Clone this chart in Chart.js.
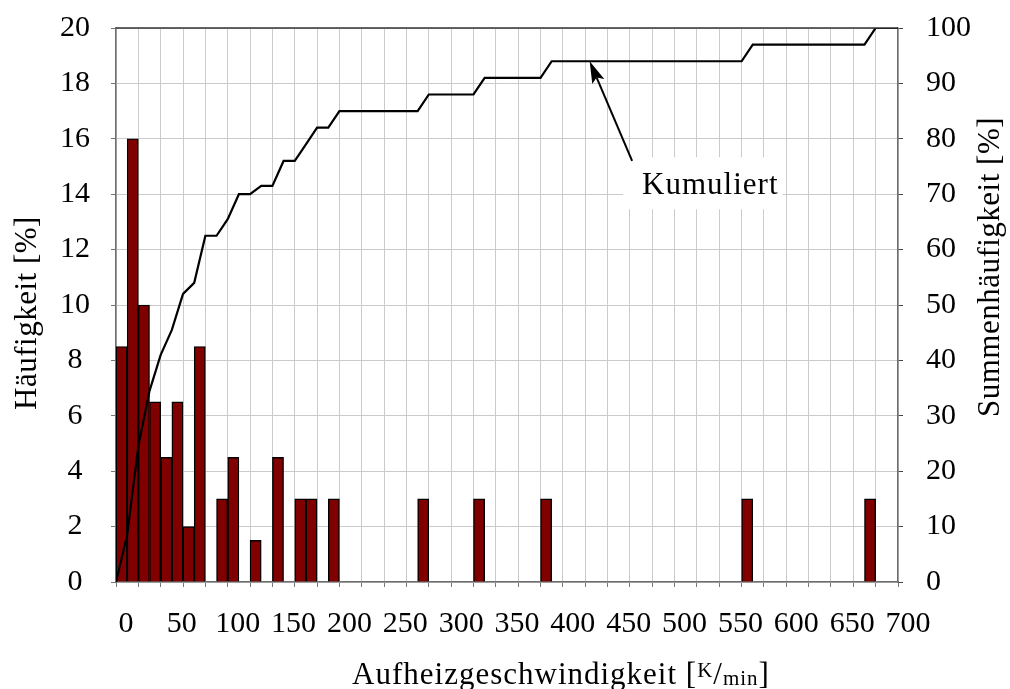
<!DOCTYPE html>
<html>
<head>
<meta charset="utf-8">
<script src="https://cdn.jsdelivr.net/npm/chart.js@4.4.0/dist/chart.umd.min.js"></script>
<style>
  html, body { margin: 0; padding: 0; background: #fff; }
</style>
</head>
<body>
<canvas id="chartAufheiz" width="1010" height="689"></canvas>
<script>
// Klassen: linke Kante in K/min, Breite 10
const klassenStart = [0, 10, 20, 30, 40, 50, 60, 70, 90, 100, 120, 140, 160, 170, 190, 270, 320, 380, 560, 670];
const haeufigkeit = [8.5, 16, 10, 6.5, 4.5, 6.5, 2, 8.5, 3, 4.5, 1.5, 4.5, 3, 3, 3, 3, 3, 3, 3, 3];
const klassenBreite = 10;

// Summenkurve, Stützpunkte an den Klassengrenzen
const summeX = [0, 10, 20, 30, 40, 50, 60, 70, 80, 90, 100, 110, 120, 130, 140, 150, 160, 170, 180, 190, 200,
                270, 280, 320, 330, 380, 390, 560, 570, 670, 680, 700];
const summeProzent = [0, 8.5, 24.5, 34.5, 41, 45.5, 52, 54, 62.5, 62.5, 65.5, 70, 70, 71.5, 71.5, 76, 76, 79, 82, 82, 85,
                      85, 88, 88, 91, 91, 94, 94, 97, 97, 100, 100];

// Achsenbeschriftung
const xBeschriftung = [0, 50, 100, 150, 200, 250, 300, 350, 400, 450, 500, 550, 600, 650, 700];
const xRaster = 20;

const schrift = '"Liberation Serif", serif';
const gitterFarbe = '#cbcbcb';
const achsFarbe = '#6e6e6e';

// Beschriftung "Kumuliert" mit Pfeil (Werte in Achsenkoordinaten x / y2)
const pfeil = { spitzeX: 424, spitzeY: 94, endeX: 462, endeY: 76, textX: 532, textY: 70 };

// y-Achsen ohne zusätzlichen Rand oben/unten
const ohneRand = s => { s.paddingTop = 0; s.paddingBottom = 0; };

const texte = {
    id: 'texte',
    afterDatasetsDraw(chart) {
        const { ctx, chartArea: a, scales } = chart;
        const sx = scales.x, sy = scales.y2;
        ctx.save();

        // obere Rahmenlinie
        ctx.strokeStyle = '#333';
        ctx.lineWidth = 1.5;
        ctx.beginPath();
        ctx.moveTo(a.left, a.top);
        ctx.lineTo(a.right, a.top);
        ctx.stroke();

        // Kasten + Text
        ctx.font = '31px ' + schrift;
        ctx.letterSpacing = '1px';
        const tw = ctx.measureText('Kumuliert').width;
        const tx = sx.getPixelForValue(pfeil.textX);
        const ty = sy.getPixelForValue(pfeil.textY);
        ctx.fillStyle = '#fff';
        ctx.fillRect(tx - tw / 2 - 19, ty - 37, tw + 23, 52);

        // Pfeil
        const x1 = sx.getPixelForValue(pfeil.endeX), y1 = sy.getPixelForValue(pfeil.endeY);
        const x2 = sx.getPixelForValue(pfeil.spitzeX), y2 = sy.getPixelForValue(pfeil.spitzeY);
        const ang = Math.atan2(y2 - y1, x2 - x1);
        const len = 22, half = 6.5;
        ctx.strokeStyle = '#000';
        ctx.lineWidth = 2;
        ctx.beginPath();
        ctx.moveTo(x1, y1);
        ctx.lineTo(x2 - Math.cos(ang) * len * 0.8, y2 - Math.sin(ang) * len * 0.8);
        ctx.stroke();
        ctx.fillStyle = '#000';
        ctx.beginPath();
        ctx.moveTo(x2, y2);
        ctx.lineTo(x2 - Math.cos(ang) * len - Math.sin(ang) * half, y2 - Math.sin(ang) * len + Math.cos(ang) * half);
        ctx.lineTo(x2 - Math.cos(ang) * len * 0.8, y2 - Math.sin(ang) * len * 0.8);
        ctx.lineTo(x2 - Math.cos(ang) * len + Math.sin(ang) * half, y2 - Math.sin(ang) * len - Math.cos(ang) * half);
        ctx.closePath();
        ctx.fill();

        ctx.textAlign = 'center';
        ctx.textBaseline = 'alphabetic';
        ctx.fillText('Kumuliert', tx, ty);

        // Achsentitel links / rechts
        ctx.font = '31px ' + schrift;
        ctx.letterSpacing = '0.5px';
        ctx.save();
        ctx.translate(a.left - 80, a.top + 285);
        ctx.rotate(-Math.PI / 2);
        ctx.fillText('Häufigkeit [%]', 0, 0);
        ctx.restore();

        ctx.save();
        ctx.translate(a.right + 101, a.top + 239);
        ctx.rotate(-Math.PI / 2);
        ctx.fillText('Summenhäufigkeit [%]', 0, 0);
        ctx.restore();

        // x-Titel mit Bruch K/min
        ctx.letterSpacing = '1px';
        const base = a.bottom + 102;
        const gross = '31px ' + schrift, klein = '21px ' + schrift;
        const teile = [
            { t: 'Aufheizgeschwindigkeit [', f: gross, dy: 0 },
            { t: 'K', f: klein, dy: -7 },
            { t: '/', f: gross, dy: 0 },
            { t: 'min', f: klein, dy: 1 },
            { t: ']', f: gross, dy: 0 }
        ];
        let gesamt = 0;
        teile.forEach(p => { ctx.font = p.f; p.w = ctx.measureText(p.t).width; gesamt += p.w; });
        let px = a.left + 445 - gesamt / 2;
        ctx.textAlign = 'left';
        teile.forEach(p => {
            ctx.font = p.f;
            ctx.fillText(p.t, px, base + p.dy);
            px += p.w;
        });

        ctx.restore();
    }
};

new Chart(document.getElementById('chartAufheiz'), {
    type: 'bar',
    data: {
        datasets: [
            {
                type: 'line',
                label: 'Kumuliert',
                data: summeX.map((x, i) => ({ x: x, y: summeProzent[i] })),
                yAxisID: 'y2',
                borderColor: '#000',
                borderWidth: 2.2,
                pointRadius: 0,
                tension: 0,
                order: 0
            },
            {
                type: 'bar',
                label: 'Häufigkeit',
                data: klassenStart.map((x, i) => ({ x: x + klassenBreite / 2, y: haeufigkeit[i] })),
                yAxisID: 'y',
                backgroundColor: '#800000',
                borderColor: '#000',
                borderWidth: 1.4,
                borderSkipped: 'start',
                barPercentage: 1,
                categoryPercentage: 1,
                order: 1
            }
        ]
    },
    options: {
        responsive: false,
        animation: false,
        layout: { padding: { top: 28, right: 0, bottom: 0, left: 0 } },
        plugins: { legend: { display: false }, tooltip: { enabled: false } },
        scales: {
            x: {
                type: 'linear',
                position: 'bottom',
                min: 0,
                max: 700,
                offset: false,
                ticks: {
                    stepSize: 10,
                    autoSkip: false,
                    maxRotation: 0,
                    padding: 19,
                    labelOffset: 10,
                    color: '#000',
                    font: { family: schrift, size: 30 },
                    callback: v => xBeschriftung.includes(v) ? String(v) : ''
                },
                grid: {
                    offset: false,
                    color: c => (c.tick && c.tick.value % xRaster === 0) ? gitterFarbe : 'rgba(0,0,0,0)',
                    tickColor: c => (c.tick && c.tick.value % xRaster === 0) ? '#777' : 'rgba(0,0,0,0)',
                    tickLength: 5,
                    lineWidth: 1
                },
                border: { color: achsFarbe, width: 1.5 },
                afterFit: s => { s.height = 107; s.paddingLeft = 0; s.paddingRight = 0; }
            },
            y: {
                position: 'left',
                min: 0,
                max: 20,
                ticks: {
                    stepSize: 2,
                    padding: 21,
                    crossAlign: 'center',
                    color: '#000',
                    font: { family: schrift, size: 30 }
                },
                grid: { color: gitterFarbe, tickColor: '#777', tickLength: 5, lineWidth: 1 },
                border: { color: achsFarbe, width: 1.5 },
                afterFit: s => { s.width = 116; ohneRand(s); }
            },
            y2: {
                position: 'right',
                min: 0,
                max: 100,
                ticks: {
                    stepSize: 10,
                    padding: 23,
                    color: '#000',
                    font: { family: schrift, size: 30 }
                },
                grid: { drawOnChartArea: false, tickColor: '#444', tickLength: 5 },
                border: { color: achsFarbe, width: 1.5 },
                afterFit: s => { s.width = 112; ohneRand(s); }
            }
        }
    },
    plugins: [texte]
});
</script>
</body>
</html>
